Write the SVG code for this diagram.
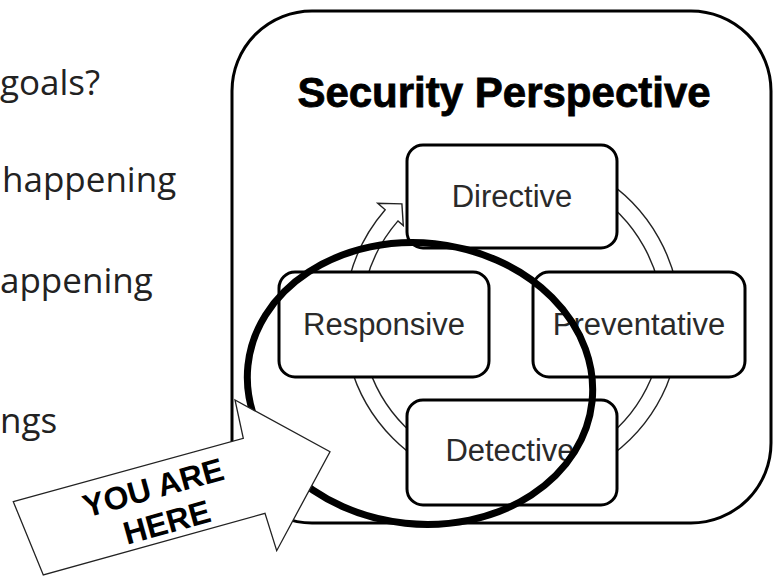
<svg xmlns="http://www.w3.org/2000/svg" width="773" height="576" viewBox="0 0 773 576">
  <style>
    .side { font-family: "Open Sans", "Noto Sans", sans-serif; font-size: 35px; fill: #222; }
    .title { font-family: "Liberation Sans", Arial, sans-serif; font-size: 42px; font-weight: bold; fill: #000; stroke: #000; stroke-width: 0.8; text-anchor: middle; }
    .box { fill: #fff; stroke: #000; stroke-width: 3; }
    .label { font-family: "Liberation Sans", Arial, sans-serif; font-size: 31px; fill: #2a2a2a; text-anchor: middle; }
    .ring { fill: #fff; stroke: #222; stroke-width: 1.4; stroke-linejoin: miter; }
    .spot { fill: none; stroke: #000; stroke-width: 7; }
    .pointer { fill: #fff; stroke: #222; stroke-width: 1.3; stroke-linejoin: miter; }
    .pointer-text { font-family: "Liberation Sans", Arial, sans-serif; font-size: 32px; font-weight: bold; fill: #000; text-anchor: middle; }
  </style>

  <rect width="773" height="576" fill="#fff"/>

  <!-- slide text on the left -->
  <g id="side-text">
    <text class="side" x="0" y="95">goals?</text>
    <text class="side" x="2" y="192">happening</text>
    <text class="side" x="0" y="293">appening</text>
    <text class="side" x="0" y="433">ngs</text>
  </g>

  <!-- container panel -->
  <g id="security-perspective">
    <rect x="232" y="11" width="539" height="512" rx="80" ry="80" fill="#fff" stroke="#000" stroke-width="3"/>
    <text class="title" x="504" y="107">Security Perspective</text>
  </g>

  <!-- cycle connector: double-line ring with arrowhead toward Directive -->
  <g id="connectors">
    <path class="ring" d="M 441.0 167.7 A 168 168 0 1 1 385.2 209.8 L 377.7 203.2 L 401.9 203.9 L 403.3 225.5 L 398.0 220.9 A 151 151 0 1 0 448.2 183.1 Z"/>
  </g>

  <g id="directive">
    <rect class="box" x="407" y="145" width="210" height="103" rx="16" ry="16"/>
    <text class="label" x="512" y="207">Directive</text>
  </g>
  <g id="responsive">
    <rect class="box" x="279" y="272" width="210" height="105" rx="16" ry="16"/>
    <text class="label" x="384" y="335">Responsive</text>
  </g>
  <g id="preventative">
    <rect class="box" x="533" y="272" width="212" height="105" rx="16" ry="16"/>
    <text class="label" x="639" y="335">Preventative</text>
  </g>
  <g id="detective">
    <rect class="box" x="407" y="400" width="210" height="105" rx="16" ry="16"/>
    <text class="label" x="510" y="461">Detective</text>
  </g>

  <!-- highlight ring around Responsive / Detective -->
  <g id="highlight">
    <ellipse class="spot" cx="420" cy="383.5" rx="173" ry="140.5" transform="rotate(6 420 383.5)"/>
  </g>

  <!-- block arrow pointing at the highlight -->
  <g id="you-are-here">
    <polygon class="pointer" points="13.3,501.7 243.3,438.3 235,400 330,451.7 276.7,550.7 265,513.3 43.3,575"/>
    <g transform="translate(160 505) rotate(-15.5)">
      <text class="pointer-text" x="-2" y="-7.5">YOU ARE</text>
      <text class="pointer-text" x="2" y="29.5">HERE</text>
    </g>
  </g>
</svg>
